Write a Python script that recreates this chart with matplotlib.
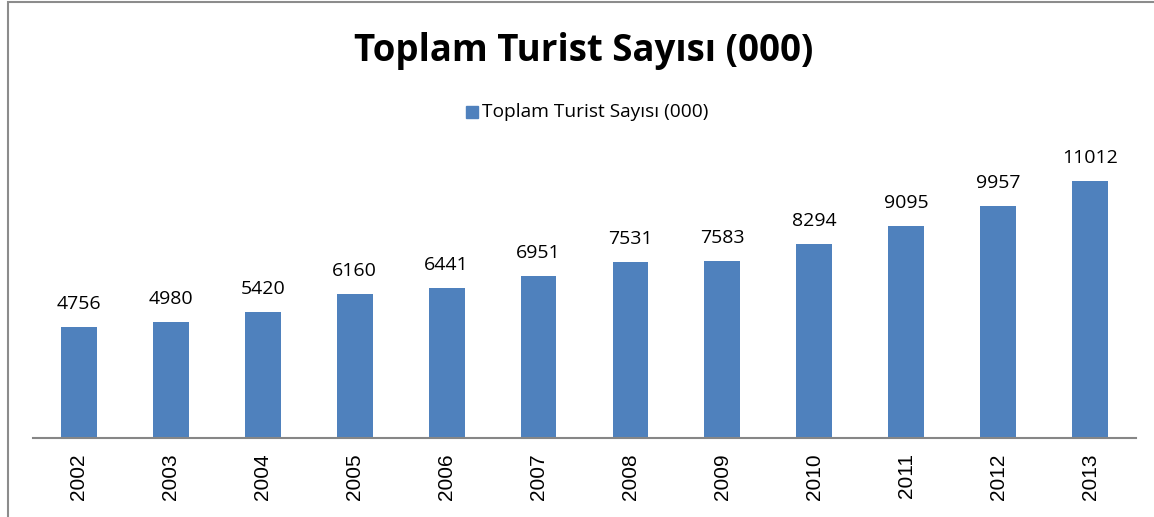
import matplotlib
matplotlib.use("Agg")
import matplotlib.pyplot as plt
from matplotlib.patches import Rectangle

years = ["2002", "2003", "2004", "2005", "2006", "2007",
         "2008", "2009", "2010", "2011", "2012", "2013"]
tourists = [4756, 4980, 5420, 6160, 6441, 6951,
            7531, 7583, 8294, 9095, 9957, 11012]
series_name = "Toplam Turist Sayısı (000)"

BAR_COLOR = "#4F81BD"
AXIS_COLOR = "#868686"
W, H = 1154, 517

fig = plt.figure(figsize=(W / 100, H / 100), dpi=100)
ax = fig.add_axes([33 / W, 79 / H, (1136 - 33) / W, (438 - 158) / H])

x = range(len(years))
bars = ax.bar(x, tourists, width=0.39, color=BAR_COLOR, zorder=2)
for xi, v in zip(x, tourists):
    ax.text(xi, v + 600, str(v), ha="center", va="bottom",
            fontsize=14, family="Open Sans", color="black")

ax.set_xlim(-0.5, len(years) - 0.5)
ax.set_ylim(0, 12000)
ax.set_xticks(list(x))
ax.set_xticklabels(years, rotation=90, fontsize=15, family="Liberation Sans")
ax.tick_params(axis="x", length=0, pad=11)
ax.set_yticks([])
for side in ("top", "right", "left"):
    ax.spines[side].set_visible(False)
ax.spines["bottom"].set_color(AXIS_COLOR)
ax.spines["bottom"].set_linewidth(1.5)

fig.text(584 / W, 1 - 51 / H, series_name, ha="center", va="center",
         fontsize=26.4, fontweight="bold", family="Open Sans")

# legend: small square + label
fig.patches.append(Rectangle((466 / W, 1 - 118 / H), 12 / W, 12 / H,
                             transform=fig.transFigure, color=BAR_COLOR))
fig.text(482 / W, 1 - 112 / H, series_name, ha="left", va="center",
         fontsize=13.8, family="Open Sans")

# chart area border
fig.patches.append(Rectangle((7.5 / W, -0.05), 1.2, 1 - 1.5 / H + 0.05,
                             transform=fig.transFigure, fill=False,
                             edgecolor="#8c8c8c", linewidth=1.5))

fig.savefig("out.png", dpi=100, facecolor="white")
